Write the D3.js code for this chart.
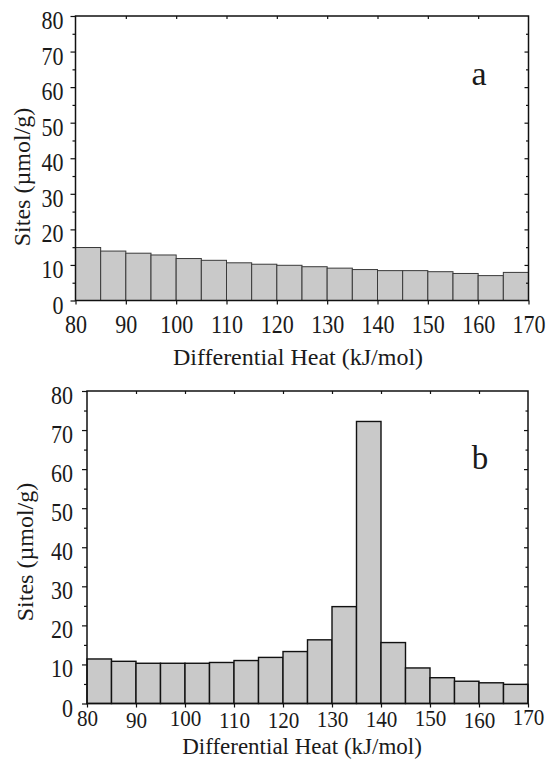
<!DOCTYPE html>
<html><head><meta charset="utf-8">
<script src="https://cdn.jsdelivr.net/npm/d3@7"></script>
<style>
body{margin:0;background:#fff}
svg text{font-family:'Liberation Serif','DejaVu Serif',serif;fill:#1a1a1a}
</style></head>
<body><svg id="c" width="547" height="760"></svg>
<script>
// ---- data ----
const binStarts = [80,85,90,95,100,105,110,115,120,125,130,135,140,145,150,155,160,165];
const binWidth = 5;
const sitesA = [14.9,13.9,13.3,12.8,11.8,11.3,10.6,10.2,9.9,9.5,9.1,8.7,8.4,8.4,8.1,7.6,7.0,7.9];
const sitesB = [11.4,10.8,10.3,10.3,10.3,10.5,11.0,11.8,13.3,16.3,24.8,72.2,15.6,9.1,6.6,5.7,5.3,4.9];
const xTicks = [80,90,100,110,120,130,140,150,160,170];
const yTicks = [0,10,20,30,40,50,60,70,80];
const yMinor = [5,15,25,35,45,55,65,75];
const xTitle = "Differential Heat (kJ/mol)";
const yTitle = "Sites (\u00b5mol/g)";
const panelLetters = ["a","b"];

const FONT = "'Liberation Serif','DejaVu Serif',serif";
const svg = d3.select("#c");

function panel(cfg){
  const x = d3.scaleLinear().domain([80,170]).range([cfg.l, cfg.r]);
  const y = d3.scaleLinear().domain([0,80]).range([cfg.b, cfg.t]);
  const g = svg.append("g").attr("font-family",FONT);

  // bars
  g.selectAll("rect.bar").data(cfg.values).join("rect")
    .attr("class","bar")
    .attr("x",(d,i)=>x(binStarts[i]))
    .attr("width",(d,i)=>x(binStarts[i]+binWidth)-x(binStarts[i]))
    .attr("y",d=>y(d))
    .attr("height",d=>y(0)-y(d))
    .attr("fill","#c9c9c9")
    .attr("stroke",cfg.barStroke)
    .attr("stroke-width",cfg.barSW);

  // frame
  g.append("rect").attr("x",cfg.l).attr("y",cfg.t)
    .attr("width",cfg.r-cfg.l).attr("height",cfg.b-cfg.t)
    .attr("fill","none").attr("stroke","#111").attr("stroke-width",1.5);

  const sx = 0.88;
  const styleAxis = a => { a.attr("font-family",FONT); a.select(".domain").remove();
    a.selectAll("line").attr("stroke","#111").attr("stroke-width",1.2); };

  // left axis
  const left = g.append("g").attr("transform",`translate(${cfg.l},0)`)
    .call(d3.axisLeft(y).tickValues(yTicks).tickSize(5).tickSizeOuter(0).tickFormat(d3.format("d")))
    .call(styleAxis);
  left.selectAll("text").attr("font-size",25).attr("font-family",FONT)
    .attr("x",-cfg.ylabGap/sx).attr("dy","0.5em").attr("transform",`scale(${sx},1)`);
  g.append("g").attr("transform",`translate(${cfg.l},0)`)
    .call(d3.axisLeft(y).tickValues(yMinor).tickSize(3).tickFormat("")).call(styleAxis);

  // right axis (inward)
  g.append("g").attr("transform",`translate(${cfg.r},0)`)
    .call(d3.axisLeft(y).tickValues(yTicks.slice(1,-1)).tickSize(4).tickFormat("")).call(styleAxis);
  g.append("g").attr("transform",`translate(${cfg.r},0)`)
    .call(d3.axisLeft(y).tickValues(yMinor).tickSize(2.5).tickFormat("")).call(styleAxis);

  // top axis (inward)
  g.append("g").attr("transform",`translate(0,${cfg.t})`)
    .call(d3.axisBottom(x).tickValues(xTicks.slice(1,-1)).tickSize(3).tickFormat("")).call(styleAxis);

  // bottom axis
  const bottom = g.append("g").attr("transform",`translate(0,${cfg.b})`)
    .call(d3.axisBottom(x).tickValues(xTicks).tickSize(4).tickSizeOuter(0).tickFormat(d3.format("d")))
    .call(styleAxis);
  bottom.selectAll("text").attr("font-size",cfg.xfs).attr("font-family",FONT)
    .attr("dy",null).attr("y",(d,i)=>cfg.xlabBase + (cfg.jitter? cfg.jitter[i]:0))
    .attr("transform",`scale(${sx},1)`);

  // titles
  g.append("text").attr("x",cfg.xtX).attr("y",cfg.xtY).attr("font-family",FONT)
    .attr("text-anchor","middle").attr("font-size",cfg.tfs).text(xTitle);
  g.append("text").attr("transform",`translate(${cfg.ytX},${cfg.ytY}) rotate(-90)`).attr("font-family",FONT)
    .attr("text-anchor","middle").attr("font-size",24).text(yTitle);
  g.append("text").attr("x",cfg.letX).attr("y",cfg.letY).attr("font-family",FONT)
    .attr("text-anchor","middle").attr("font-size",cfg.letFS).text(cfg.letter);
}

panel({values:sitesA, l:75.5, r:528.5, t:16, b:300.5, barStroke:"#3a3a3a", barSW:1,
  ylabGap:12, xlabBase:33, xfs:25, tfs:24, xtX:298, xtY:365, ytX:30, ytY:177,
  letter:panelLetters[0], letX:479, letY:85, letFS:34});

panel({values:sitesB, l:87, r:528, t:391, b:703.5, barStroke:"#111", barSW:1.4,
  ylabGap:14, xlabBase:25, xfs:24, tfs:23, jitter:[-2,0,-2,0,0,-1,-1,-2,0,-3],
  xtX:302, xtY:754, ytX:33, ytY:552,
  letter:panelLetters[1], letX:480, letY:469, letFS:33});
</script></body></html>
